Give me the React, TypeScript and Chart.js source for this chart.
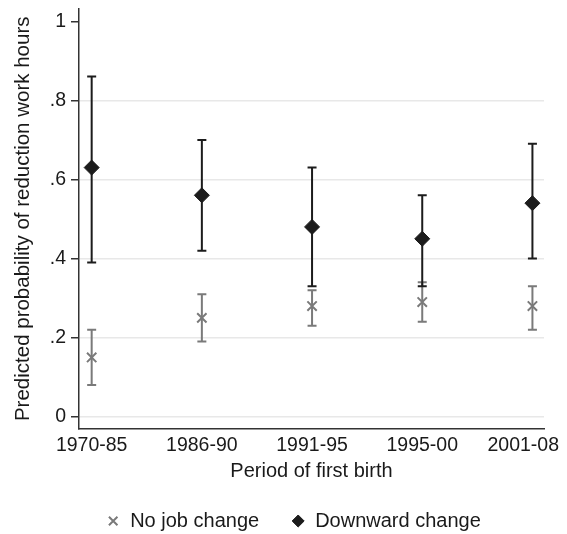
import React, { useEffect, useRef } from 'react';
import { Chart, registerables } from 'chart.js';

Chart.register(...registerables);

const categories = ['1970-85', '1986-90', '1991-95', '1995-00', '2001-08'];
const noJobChange = [0.15, 0.25, 0.28, 0.29, 0.28];
const noJobChangeLow = [0.08, 0.19, 0.23, 0.24, 0.22];
const noJobChangeHigh = [0.22, 0.31, 0.32, 0.34, 0.33];
const downwardChange = [0.63, 0.56, 0.48, 0.45, 0.54];
const downwardChangeLow = [0.39, 0.42, 0.33, 0.33, 0.4];
const downwardChangeHigh = [0.86, 0.7, 0.63, 0.56, 0.69];
const yTickValues = [0, 0.2, 0.4, 0.6, 0.8, 1];
const yTickLabels = ['0', '.2', '.4', '.6', '.8', '1'];

const FONT = '"Liberation Sans", Arial, Helvetica, sans-serif';
const GRAY = '#7a7a7a';
const BLACK = '#1c1c1c';
const TEXT = '#1a1a1a';
const AXIS = '#333333';

const errorBarPlugin = {
  id: 'errorBars',
  afterLayout(chart: any) {
    const lg = chart.legend;
    if (lg) {
      lg.left += 21.5;
      lg.right += 21.5;
      lg.top -= 10;
    }
  },
  beforeDraw(chart: any) {
    const xs = chart.scales.x;
    const items = xs.getLabelItems(chart.chartArea);
    const last = items[items.length - 1];
    if (last) {
      last.options.textAlign = 'right';
      last.options.translation = [chart.width - 8, last.options.translation[1]];
    }
  },
  beforeDatasetsDraw(chart: any) {
    const { ctx } = chart;
    const xs = chart.scales.x;
    const ys = chart.scales.y;
    chart.data.datasets.forEach((ds: any) => {
      const lo: number[] = ds.errLow;
      const hi: number[] = ds.errHigh;
      ctx.save();
      ctx.strokeStyle = ds.borderColor;
      ctx.lineWidth = 2;
      lo.forEach((l, j) => {
        const px = xs.getPixelForValue(j);
        const p1 = ys.getPixelForValue(l);
        const p2 = ys.getPixelForValue(hi[j]);
        ctx.beginPath();
        ctx.moveTo(px, p1);
        ctx.lineTo(px, p2);
        ctx.moveTo(px - 4.5, p1);
        ctx.lineTo(px + 4.5, p1);
        ctx.moveTo(px - 4.5, p2);
        ctx.lineTo(px + 4.5, p2);
        ctx.stroke();
      });
      ctx.restore();
    });
  },
};

export default function App() {
  const ref = useRef<HTMLCanvasElement>(null);
  useEffect(() => {
    document.body.style.margin = '0';
    const chart = new Chart(ref.current as HTMLCanvasElement, {
      type: 'scatter',
      data: {
        datasets: [
          {
            label: 'No job change',
            data: noJobChange.map((v, i) => ({ x: i, y: v })),
            pointStyle: 'crossRot',
            pointRadius: 6.6,
            pointBorderWidth: 2,
            borderWidth: 2,
            borderColor: GRAY,
            backgroundColor: GRAY,
            errLow: noJobChangeLow,
            errHigh: noJobChangeHigh,
          } as any,
          {
            label: 'Downward change',
            data: downwardChange.map((v, i) => ({ x: i, y: v })),
            pointStyle: 'rectRot',
            pointRadius: 7.5,
            borderWidth: 1,
            pointBorderWidth: 1,
            borderColor: BLACK,
            backgroundColor: BLACK,
            errLow: downwardChangeLow,
            errHigh: downwardChangeHigh,
          } as any,
        ],
      },
      options: {
        responsive: false,
        animation: false,
        events: [],
        layout: { padding: { left: 0, right: 23, top: 4, bottom: 0 } },
        plugins: {
          legend: {
            position: 'bottom',
            maxHeight: 45,
            labels: {
              usePointStyle: true,
              boxWidth: 14,
              boxHeight: 8.5,
              padding: 32,
              color: TEXT,
              font: { family: FONT, size: 20 },
            },
          },
          tooltip: { enabled: false },
        },
        scales: {
          x: {
            type: 'linear',
            min: -0.115,
            max: 4.105,
            afterBuildTicks: (s: any) => {
              s.ticks = categories.map((_, i) => ({ value: i }));
            },
            afterFit: (s: any) => {
              s.height = 60;
              s.paddingLeft = 0;
              s.paddingRight = 0;
            },
            grid: { display: false, drawTicks: false },
            border: { display: true, color: AXIS, width: 1.5 },
            ticks: {
              callback: (v: any) => categories[v as number],
              font: { family: FONT, size: 19.5 },
              color: TEXT,
              padding: 4.5,
              maxRotation: 0,
              autoSkip: false,
            },
            title: {
              display: true,
              text: 'Period of first birth',
              font: { family: FONT, size: 20 },
              color: TEXT,
              padding: { top: 0, bottom: 5.6 },
            },
          },
          y: {
            min: -0.031,
            max: 1.032,
            afterBuildTicks: (s: any) => {
              s.ticks = yTickValues.map((v) => ({ value: v }));
            },
            afterFit: (s: any) => {
              s.width = 79;
              s.paddingTop = 0;
              s.paddingBottom = 0;
            },
            grid: {
              color: (c: any) => (c.tick && c.tick.value === 1 ? 'rgba(0,0,0,0)' : '#e8e8e8'),
              lineWidth: 1.5,
              tickColor: AXIS,
              tickLength: 8,
              tickWidth: 1.5,
            },
            border: { display: true, color: AXIS, width: 1.5 },
            ticks: {
              callback: (v: any) => yTickLabels[yTickValues.indexOf(v as number)],
              font: { family: FONT, size: 19.5 },
              color: TEXT,
              padding: 5,
            },
            title: {
              display: true,
              text: 'Predicted probability of reduction work hours',
              font: { family: FONT, size: 20.5 },
              color: TEXT,
              padding: { top: 11, bottom: 0 },
            },
          },
        },
      } as any,
      plugins: [errorBarPlugin],
    });
    return () => chart.destroy();
  }, []);
  return (
    <div style={{ width: 567, height: 534, position: 'relative' }}>
      <canvas ref={ref} width={567} height={534} style={{ display: 'block' }} />
    </div>
  );
}
